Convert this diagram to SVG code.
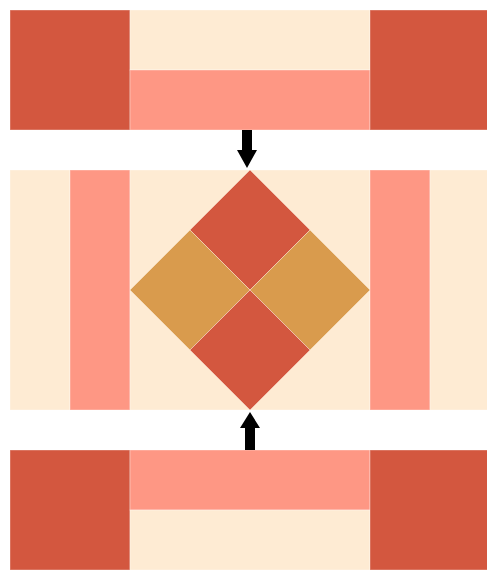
<svg xmlns="http://www.w3.org/2000/svg" width="487" height="573" viewBox="0 0 487 573">
<style>
.d{fill:#D3573F}.c{fill:#FEEBD3}.s{fill:#FE9784}.o{fill:#D99B4D}
rect,polygon.p{stroke:#fff;stroke-opacity:0.35;stroke-width:1}
.a{fill:#000}
</style>
<rect width="487" height="573" fill="#fff" stroke="none"/>
<g id="top">
<rect class="d" x="10" y="10" width="120" height="120"/>
<rect class="c" x="130" y="10" width="240" height="60"/>
<rect class="s" x="130" y="70" width="240" height="60"/>
<rect class="d" x="370" y="10" width="120" height="120"/>
</g>
<g id="middle">
<rect class="c" x="10" y="170" width="60" height="240"/>
<rect class="s" x="70" y="170" width="60" height="240"/>
<rect class="c" x="130" y="170" width="240" height="240"/>
<rect class="s" x="370" y="170" width="60" height="240"/>
<rect class="c" x="430" y="170" width="60" height="240"/>
<polygon class="d p" points="250,170 310,230 250,290 190,230"/>
<polygon class="o p" points="190,230 250,290 190,350 130,290"/>
<polygon class="o p" points="310,230 370,290 310,350 250,290"/>
<polygon class="d p" points="250,290 310,350 250,410 190,350"/>
</g>
<g id="bottom">
<rect class="d" x="10" y="450" width="120" height="120"/>
<rect class="s" x="130" y="450" width="240" height="60"/>
<rect class="c" x="130" y="510" width="240" height="60"/>
<rect class="d" x="370" y="450" width="120" height="120"/>
</g>
<g id="connectors">
<polygon class="a" points="242,130 252,130 252,150 257,150 247,168 237,150 242,150"/>
<polygon class="a" points="245,450 255,450 255,428 260,428 250,412 240,428 245,428"/>
</g>
</svg>
